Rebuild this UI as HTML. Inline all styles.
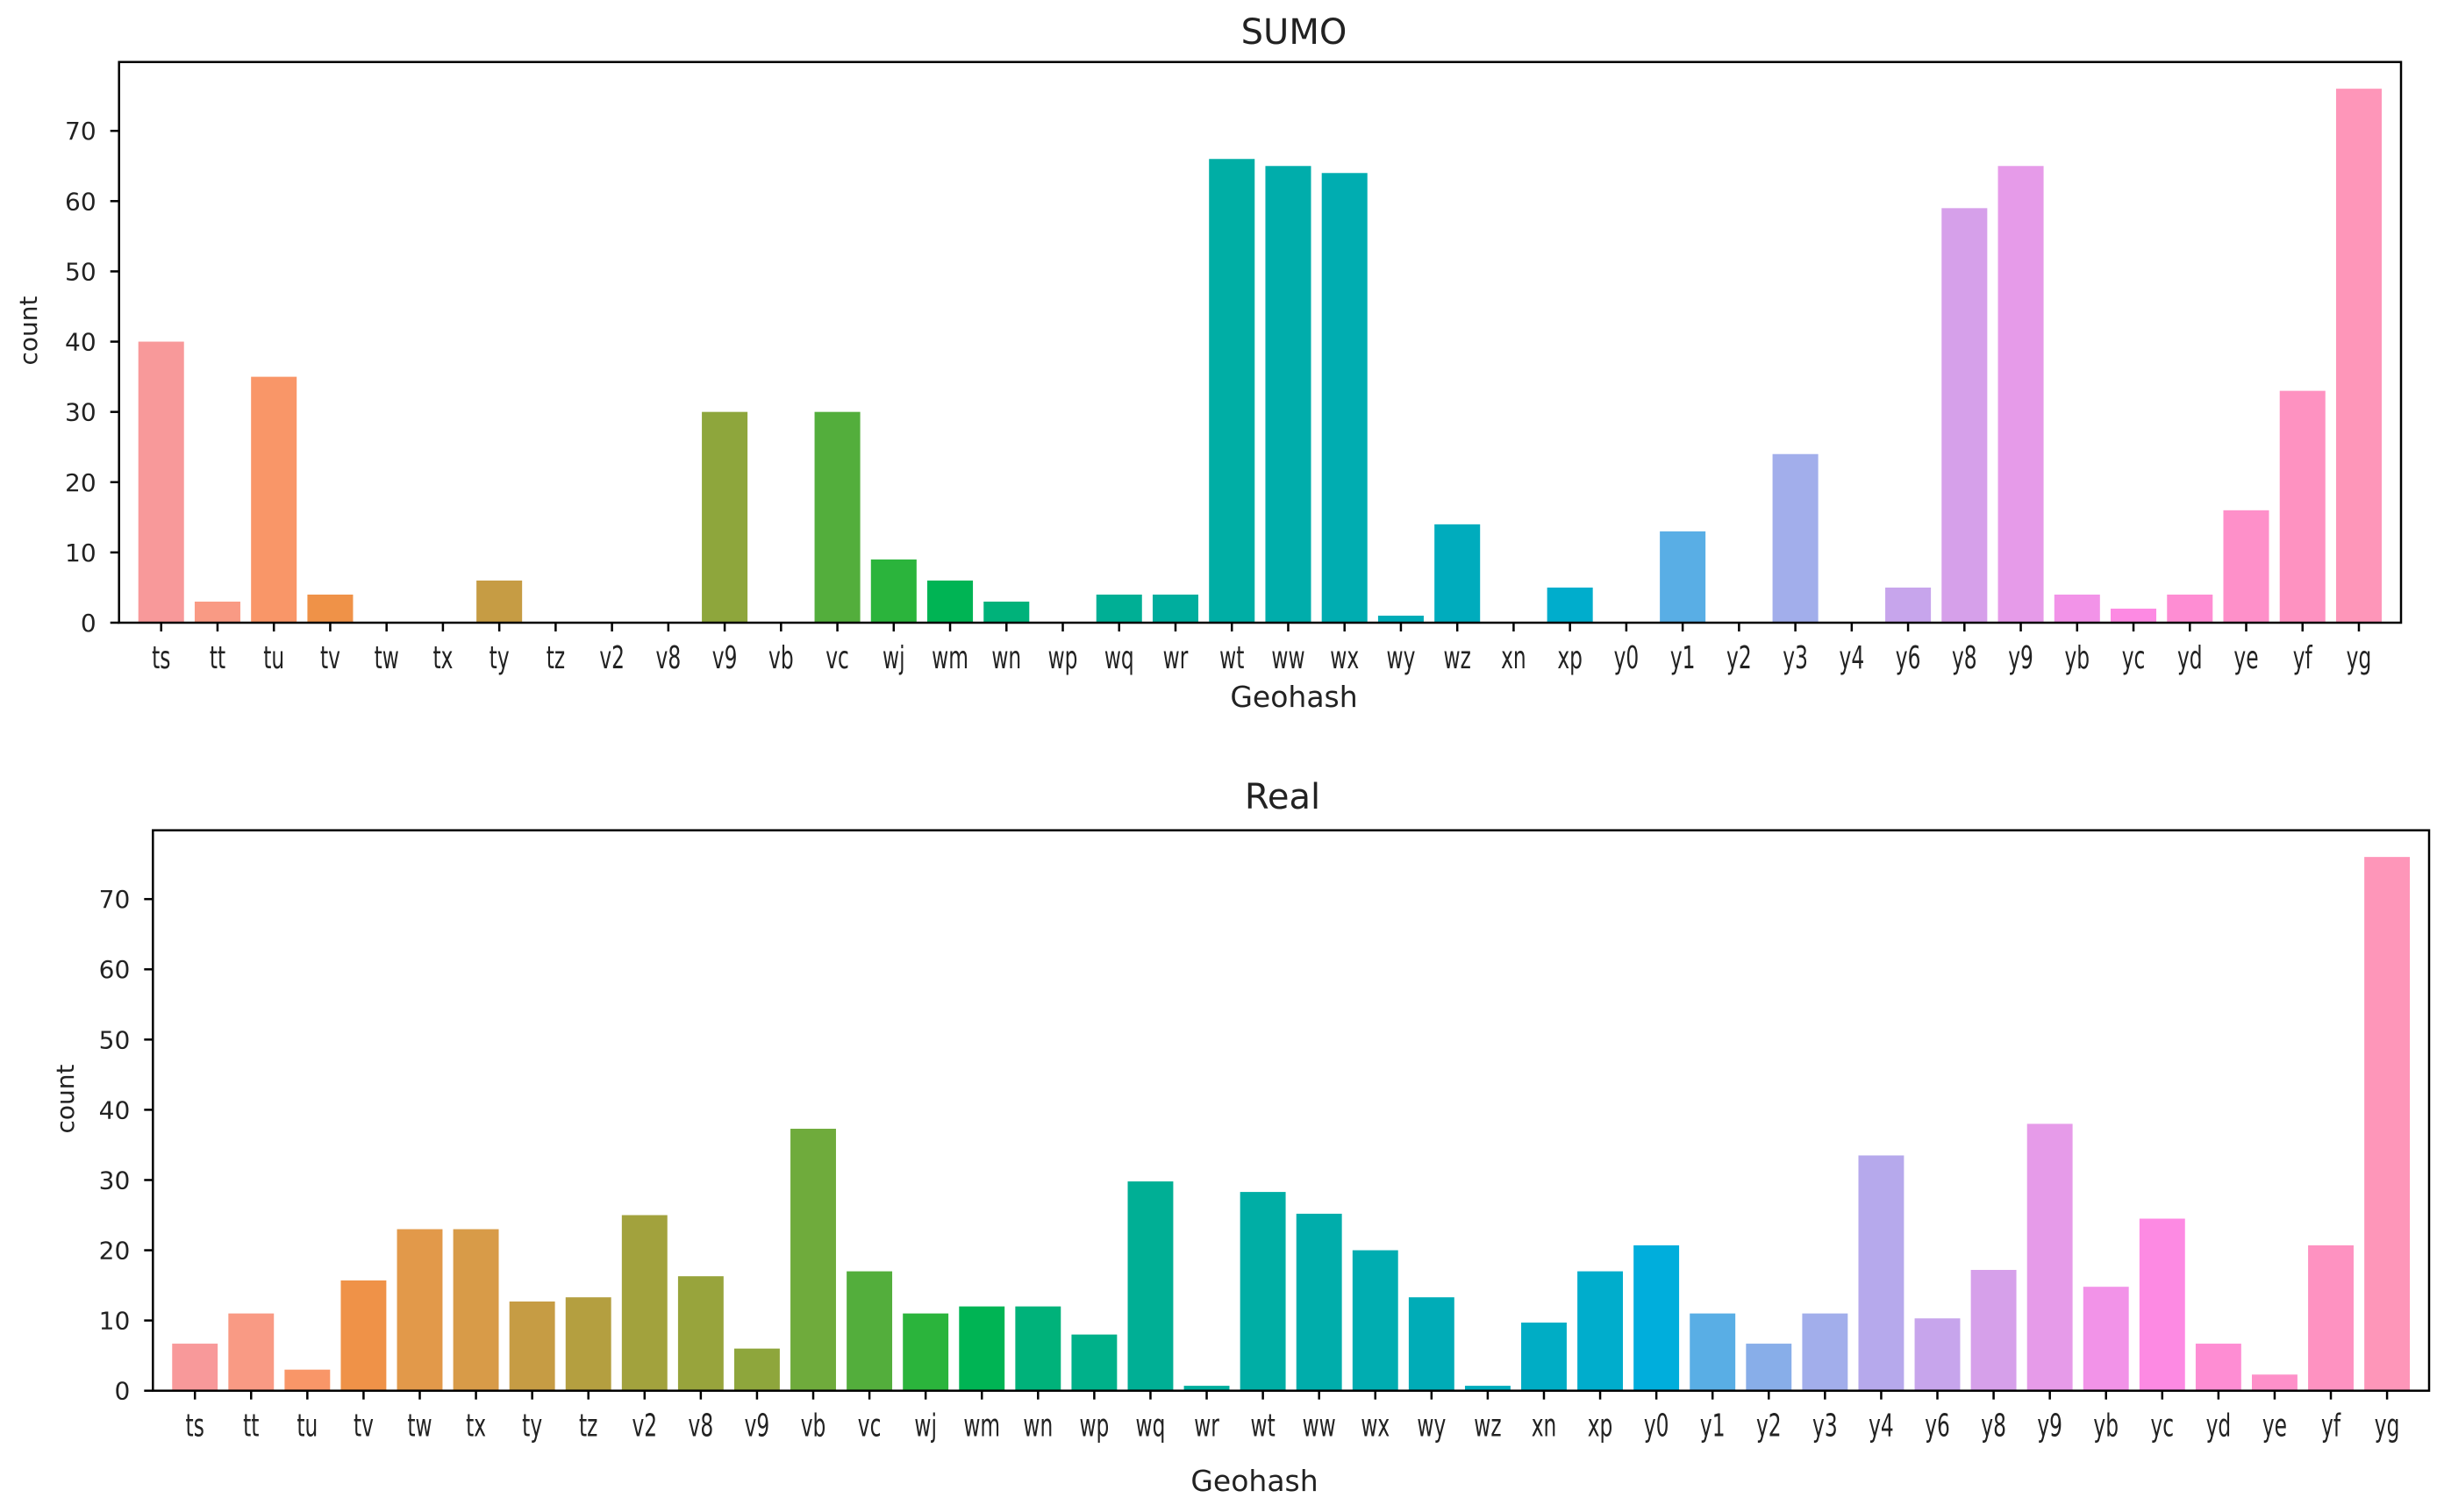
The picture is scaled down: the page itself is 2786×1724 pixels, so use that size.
<!DOCTYPE html>
<html><head><meta charset="utf-8"><style>
html,body{margin:0;padding:0;background:#fff;}
svg{display:block;}
text{font-family:"DejaVu Sans","Liberation Sans",sans-serif;fill:#222;}
.xt{font-family:"DejaVu Sans Condensed","DejaVu Sans","Liberation Sans",sans-serif;font-size:36px;}
.yt{font-size:28px;}
</style></head><body>
<svg id="chart" width="2786" height="1724" viewBox="0 0 2786 1724" xmlns="http://www.w3.org/2000/svg">
<text x="1475" y="50" text-anchor="middle" font-size="40">SUMO</text>
<text x="1475" y="806" text-anchor="middle" font-size="33">Geohash</text>
<text transform="translate(42,377) rotate(-90)" text-anchor="middle" font-size="28">count</text>
<text x="1462" y="922" text-anchor="middle" font-size="40">Real</text>
<text x="1430" y="1700" text-anchor="middle" font-size="33">Geohash</text>
<text transform="translate(84,1253) rotate(-90)" text-anchor="middle" font-size="28">count</text>
<g id="sumo"></g>
<g id="real"></g>
</svg>
<script>
const categories = ["ts","tt","tu","tv","tw","tx","ty","tz","v2","v8","v9","vb","vc","wj","wm","wn","wp","wq","wr","wt","ww","wx","wy","wz","xn","xp","y0","y1","y2","y3","y4","y6","y8","y9","yb","yc","yd","ye","yf","yg"];
const sumoValues = [40,3,35,4,0,0,6,0,0,0,30,0,30,9,6,3,0,4,4,66,65,64,1,14,0,5,0,13,0,24,0,5,59,65,4,2,4,16,33,76];
const realValues = [6.7,11,3,15.7,23,23,12.7,13.3,25,16.3,6,37.3,17,11,12,12,8,29.8,0.7,28.3,25.2,20,13.3,0.7,9.7,17,20.7,11,6.7,11,33.5,10.3,17.2,38,14.8,24.5,6.7,2.3,20.7,76];
const yTicks = [0,10,20,30,40,50,60,70];
const yMax = 79.8;
const colors = ["#f8999a","#f99a84","#f99668","#ef9248","#e2994a","#d89b48","#c69c44","#b49f40","#a2a23d","#98a43c","#8ea63c","#6fab3c","#53ae3c","#2bb43c","#00b454","#00b27a","#00b18a","#00af95","#00ae9e","#00aea5","#00adab","#00adb1","#00acb7","#00acbd","#00adc5","#00adcc","#00aedc","#59aee5","#88aee9","#a2aeeb","#b6a9ec","#c7a5ec","#d6a0ea","#e69be9","#f293e8","#fd8ae3","#fe8dd3","#fe90c9","#fe92c1","#fe96b9"];
const NS="http://www.w3.org/2000/svg";
function mk(tag,attrs,parent){const e=document.createElementNS(NS,tag);for(const k in attrs)e.setAttribute(k,attrs[k]);parent.appendChild(e);return e;}
function draw(gid, values, L, R, T, B, prefix){
  const g=document.getElementById(gid);
  const n=categories.length;
  const margin=(R-L)*0.01846;
  const step=(R-L-2*margin)/(n-1);
  const xs=i=>L+margin+i*step;
  const ys=v=>B-(v/yMax)*(B-T);
  const bw=step*0.81;
  values.forEach((v,i)=>{
    const r=mk('rect',{x:xs(i)-bw/2,y:ys(v),width:bw,height:B-ys(v),fill:colors[i]},g);
    
    
  });
  categories.forEach((c,i)=>{
    const t=mk('line',{x1:xs(i),x2:xs(i),y1:B,y2:B+10,stroke:'#000','stroke-width':2.5},g);
    
    
    const gg=mk('g',{transform:'translate('+xs(i)+','+(B+52)+') scale(0.72,1)'},g);
    const tx=mk('text',{x:0,y:0,'text-anchor':'middle',class:'xt'},gg);
    tx.textContent=c;
    
    
  });
  yTicks.forEach(v=>{
    const t=mk('line',{x1:L-10,x2:L,y1:ys(v),y2:ys(v),stroke:'#000','stroke-width':2.5},g);
    
    
    const tx=mk('text',{x:L-26,y:ys(v)+10,'text-anchor':'end',class:'yt'},g);
    tx.textContent=v;
    
    
  });
  const f=mk('rect',{x:L,y:T,width:R-L,height:B-T,fill:'none',stroke:'#000','stroke-width':2.5},g);
  
  
}
draw('sumo', sumoValues, 135.7, 2737, 70.7, 710, 'sumo');
draw('real', realValues, 174.3, 2769, 946.7, 1585.7, 'real');
</script>
</body></html>
